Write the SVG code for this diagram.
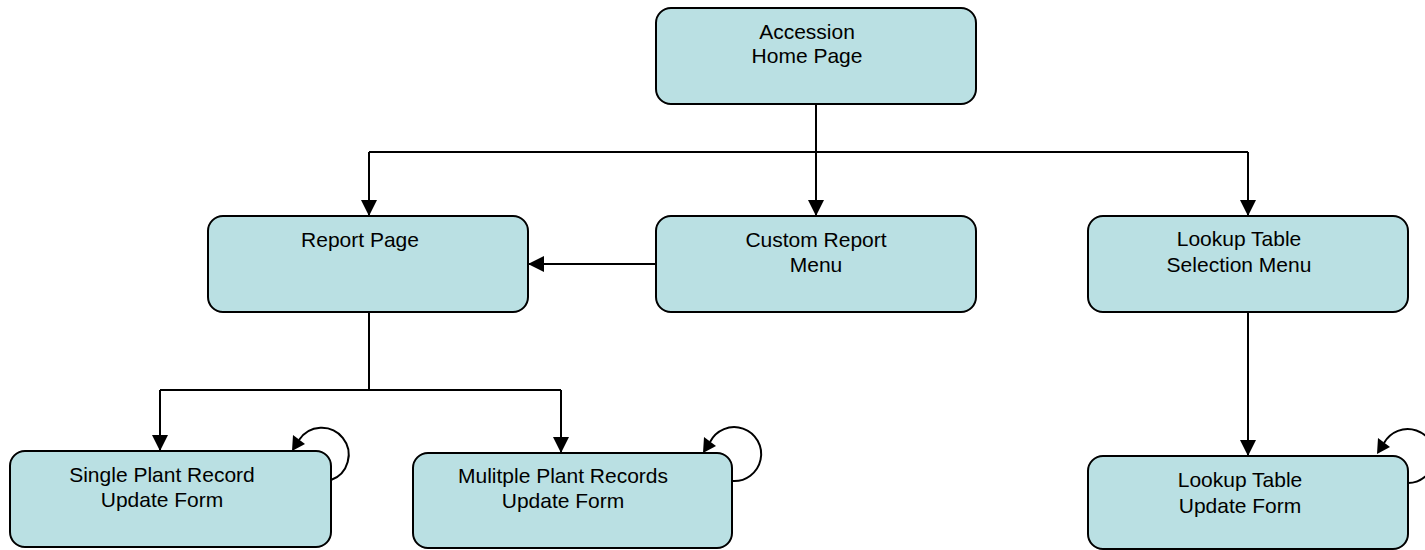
<svg xmlns="http://www.w3.org/2000/svg" width="1425" height="550" viewBox="0 0 1425 550">
<style>
.box{fill:#BAE0E3;stroke:#000;stroke-width:2}
.lbl{font-family:"Liberation Sans",Arial,sans-serif;font-size:21px;fill:#000;text-anchor:middle}
.ln{fill:none;stroke:#000;stroke-width:2}
.arr{marker-end:url(#ah)}
</style>
<defs>
<marker id="ah" markerUnits="userSpaceOnUse" markerWidth="16" markerHeight="16" refX="16" refY="8" orient="auto" viewBox="0 0 16 16">
<path d="M0,0 L16,8 L0,16 z" fill="#000"/>
</marker>
</defs>
<g id="connectors">
<path class="ln" d="M816,104 V152"/>
<path class="ln" d="M369,152 H1248"/>
<path class="ln arr" d="M369,152 V216"/>
<path class="ln arr" d="M816,152 V216"/>
<path class="ln arr" d="M1248,152 V216"/>
<path class="ln arr" d="M656,264 H528"/>
<path class="ln" d="M369,312 V390 M160,390 H561"/>
<path class="ln arr" d="M160,390 V451"/>
<path class="ln arr" d="M561,390 V453"/>
<path class="ln arr" d="M1248,312 V456"/>
<path class="ln" d="M331,480 A27,27 0 1 0 299,440"/>
<polygon points="292,451 293,435 305,444" fill="#000"/>
<path class="ln" d="M732,481 A27,27 0 1 0 710,442"/>
<polygon points="703,453 704,437 716,446" fill="#000"/>
<path class="ln" d="M1408,483 A27,27 0 1 0 1384,443"/>
<polygon points="1377,454 1378,438 1390,447" fill="#000"/>
</g>
<g id="home">
<rect class="box" x="656" y="8" width="320" height="96" rx="15"/>
<text class="lbl" x="807" y="39">Accession</text>
<text class="lbl" x="807" y="63">Home Page</text>
</g>
<g id="report">
<rect class="box" x="208" y="216" width="320" height="96" rx="15"/>
<text class="lbl" x="360" y="247">Report Page</text>
</g>
<g id="custom">
<rect class="box" x="656" y="216" width="320" height="96" rx="15"/>
<text class="lbl" x="816" y="247">Custom Report</text>
<text class="lbl" x="816" y="272">Menu</text>
</g>
<g id="lookupsel">
<rect class="box" x="1088" y="216" width="320" height="96" rx="15"/>
<text class="lbl" x="1239" y="246">Lookup Table</text>
<text class="lbl" x="1239" y="272">Selection Menu</text>
</g>
<g id="single">
<rect class="box" x="10" y="451" width="321" height="96" rx="15"/>
<text class="lbl" x="162" y="482">Single Plant Record</text>
<text class="lbl" x="162" y="507">Update Form</text>
</g>
<g id="multiple">
<rect class="box" x="413" y="453" width="319" height="95" rx="15"/>
<text class="lbl" x="563" y="483">Mulitple Plant Records</text>
<text class="lbl" x="563" y="508">Update Form</text>
</g>
<g id="lookupupd">
<rect class="box" x="1088" y="456" width="320" height="93" rx="15"/>
<text class="lbl" x="1240" y="487">Lookup Table</text>
<text class="lbl" x="1240" y="513">Update Form</text>
</g>
</svg>
